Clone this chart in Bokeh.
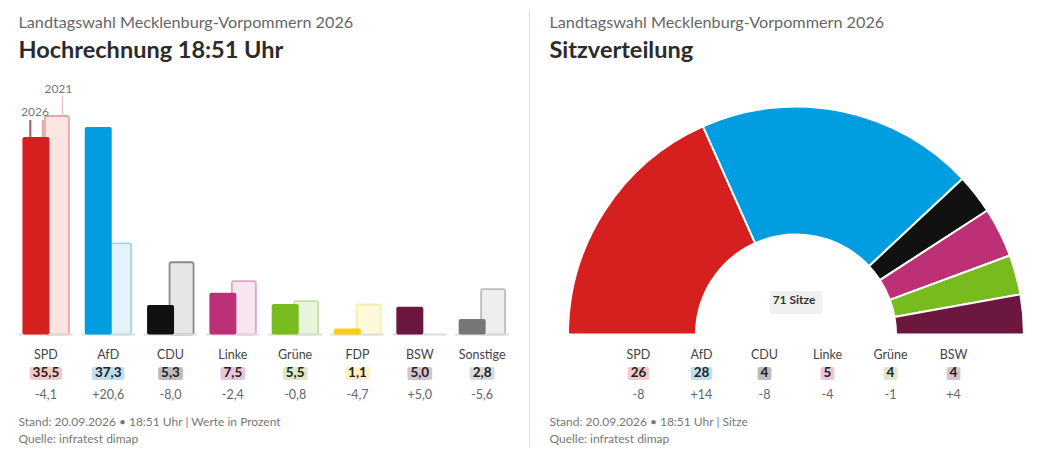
from bokeh.embed import file_html
from bokeh.resources import INLINE
from bokeh.plotting import figure
from bokeh.models import ColumnDataSource, FactorRange, Range1d, Title, Label, Div
from bokeh.layouts import row
from bokeh.transform import dodge
from bokeh.core.properties import value as literal
import math

FONT = "Lato"

parties = ["SPD", "AfD", "CDU", "Linke", "Grüne", "FDP", "BSW", "Sonstige"]
votes_2026 = [35.5, 37.3, 5.3, 7.5, 5.5, 1.1, 5.0, 2.8]
votes_2021 = [39.3, 16.4, 13.0, 9.6, 6.0, 5.4, 0.0, 8.15]
vote_diff = [-4.1, 20.6, -8.0, -2.4, -0.8, -4.7, 5.0, -5.6]
colors = ["#d61f1f", "#009ee0", "#111111", "#be3075", "#78bb1e", "#f8cf10", "#6b1740", "#777777"]
old_fill = ["#fbe4e2", "#e2f3fb", "#e6e6e6", "#f7e5ef", "#eaf4dd", "#fff9dc", "#eeeeee", "#eeeeee"]
old_line = ["#e4a9a6", "#9fd4ea", "#8a8a8a", "#dfa8c8", "#c6dfa8", "#f9ecb0", "#dddddd", "#bdbdbd"]
chips = ["#f3c9c9", "#bfdff1", "#bdbdbd", "#e9c6d9", "#dbe9c8", "#fff2c0", "#d5c4cf", "#d9d9d9"]

seat_parties = ["SPD", "AfD", "CDU", "Linke", "Grüne", "BSW"]
seats = [26, 28, 4, 5, 4, 4]
seat_diff = [-8, 14, -8, -4, -1, 4]
seat_colors = ["#d61f1f", "#009ee0", "#111111", "#be3075", "#78bb1e", "#6b1740"]
seat_chips = ["#f3c9c9", "#bfdff1", "#bdbdbd", "#e9c6d9", "#dbe9c8", "#d5c4cf"]

years = ["2026", "2021"]
year_hint_tops = [38.6, 42.8]

Y_TOP, Y_BOTTOM = 48.74, -20.14
TF = literal(FONT)


def base_figure(factors, pad, left):
    p = figure(width=521, height=441, frame_width=511, frame_height=383,
               x_range=FactorRange(factors=factors, range_padding=pad, range_padding_units="absolute"),
               y_range=Range1d(Y_BOTTOM, Y_TOP),
               output_backend="svg", toolbar_location=None,
               min_border_left=left, min_border_right=10 - left, min_border_top=0, min_border_bottom=0,
               background_fill_color=None, border_fill_color=None)
    p.outline_line_color = None
    p.grid.visible = False
    p.yaxis.visible = False
    ax = p.xaxis[0]
    ax.fixed_location = 0
    ax.axis_line_color = None
    ax.major_tick_line_color = None
    ax.minor_tick_line_color = None
    ax.major_label_standoff = 6
    ax.major_label_text_font = FONT
    ax.major_label_text_font_size = "12.5px"
    ax.major_label_text_color = "#444444"
    return p


def add_titles(p, sub, head, offset):
    p.title = Title(text=sub, text_font=FONT, text_font_size="16.2px", text_font_style="normal",
                    text_color="#666666", offset=offset, standoff=2)
    p.add_layout(Title(text=head, text_font=FONT, text_font_size="23.5px", text_font_style="bold",
                       text_color="#2b2b2b", offset=offset, standoff=2), "above")


def add_rows(p, src):
    p.text(x="party", y="zero", text="value", source=src, y_offset=39, text_font=TF,
           text_font_size="13.5px", text_font_style="bold", text_color="#222222", text_align="center",
           text_baseline="middle", background_fill_color="chip", padding=[3, 3, 0, 3], border_radius=2)
    p.text(x="party", y="zero", text="diff", source=src, y_offset=59, text_font=TF,
           text_font_size="12.5px", text_color="#666666", text_align="center", text_baseline="middle")


def add_footer(p, lines, x):
    for line, y in zip(lines, [25, 8]):
        p.add_layout(Label(x=x, y=y, x_units="screen", y_units="screen", text=line, text_font=FONT,
                           text_font_size="12px", text_color="#777777", text_baseline="middle"))


fmt = lambda v: f"{v:.1f}".replace(".", ",")
sign = lambda v: f"{v:+.1f}".replace(".", ",")

src1 = ColumnDataSource(dict(
    party=parties, new=votes_2026, old=votes_2021, color=colors, old_fill=old_fill, old_line=old_line,
    chip=chips, zero=[0] * len(parties), value=[fmt(v) for v in votes_2026], diff=[sign(v) for v in vote_diff],
))

p1 = base_figure(parties, 0.1, 0)
add_titles(p1, "Landtagswahl Mecklenburg-Vorpommern 2026", "Hochrechnung 18:51 Uhr", 10)
old_src = ColumnDataSource({k: [v[i] for i in range(len(parties)) if votes_2021[i] > 0] for k, v in src1.data.items()})
p1.vbar(x=dodge("party", 0.177, range=p1.x_range), top="old", bottom=0, width=0.385, source=old_src,
        fill_color="old_fill", line_color="old_line", line_width=1.8, border_radius=2)
p1.segment(x0=dodge("party", -0.43, range=p1.x_range), x1=dodge("party", 0.43, range=p1.x_range),
           y0="zero", y1="zero", source=src1, line_color="#dddddd", line_width=2)
p1.vbar(x=dodge("party", -0.16, range=p1.x_range), top="new", bottom=0, width=0.433, source=src1,
        fill_color="color", line_color=None, border_radius=2)

# year hints on the first group
hint = ColumnDataSource(dict(party=parties[:1], new=votes_2026[:1], old=votes_2021[:1],
                             hint_new=year_hint_tops[:1], hint_old=year_hint_tops[1:],
                             year_new=years[:1], year_old=years[1:]))
p1.segment(x0=dodge("party", -0.25, range=p1.x_range), x1=dodge("party", -0.25, range=p1.x_range),
           y0="new", y1="hint_new", source=hint, line_color="#9b5a5a", line_width=2)
p1.segment(x0=dodge("party", -0.05, range=p1.x_range), x1=dodge("party", -0.05, range=p1.x_range),
           y0="new", y1="hint_new", source=hint, line_color="#d9a6a6", line_width=2)
p1.segment(x0=dodge("party", 0.265, range=p1.x_range), x1=dodge("party", 0.265, range=p1.x_range),
           y0="old", y1="hint_old", source=hint, line_color="#e8b5b5", line_width=1)
p1.text(x=dodge("party", -0.175, range=p1.x_range), y="hint_new", text="year_new", source=hint, y_offset=-8,
        text_font=TF, text_font_size="12px", text_color="#777777", text_align="center", text_baseline="middle")
p1.text(x=dodge("party", 0.2, range=p1.x_range), y="hint_old", text="year_old", source=hint, y_offset=-8,
        text_font=TF, text_font_size="12px", text_color="#777777", text_align="center", text_baseline="middle")
add_rows(p1, src1)
add_footer(p1, ["Stand: 20.09.2026 • 18:51 Uhr | Werte in Prozent", "Quelle: infratest dimap"], 10)

p2 = base_figure(seat_parties, 1.055, 10)
add_titles(p2, "Landtagswahl Mecklenburg-Vorpommern 2026", "Sitzverteilung", 9)
total = sum(seats)
cum = [sum(seats[:i]) for i in range(len(seats) + 1)]
anchor = seat_parties[len(seat_parties) // 2 - 1]
src2 = ColumnDataSource(dict(
    party=seat_parties, seats=seats, color=seat_colors, chip=seat_chips, zero=[0] * len(seats), anchor=[anchor] * len(seats),
    start=[math.pi * (1 - c / total) for c in cum[:-1]], end=[math.pi * (1 - c / total) for c in cum[1:]],
    value=[str(s) for s in seats], diff=[f"{d:+d}" for d in seat_diff],
))
centre = dodge("anchor", 0.5, range=p2.x_range)
p2.annular_wedge(x=centre, y="zero", inner_radius=100, outer_radius=228, inner_radius_units="screen",
                 outer_radius_units="screen", start_angle="start", end_angle="end", direction="clock",
                 source=src2, fill_color="color", line_color="white", line_width=2)
src_total = ColumnDataSource(dict(anchor=[anchor], zero=[0], label=[f"{total} Sitze"]))
p2.text(x=centre, y="zero", text="label", source=src_total, y_offset=-32, text_font=TF,
        text_font_size="12px", text_font_style="bold", text_color="#333333", text_align="center",
        text_baseline="middle", background_fill_color="#f0f0f0", padding=[3, 7, 1, 7], border_radius=2)
add_rows(p2, src2)
add_footer(p2, ["Stand: 20.09.2026 • 18:51 Uhr | Sitze", "Quelle: infratest dimap"], 9)

divider = Div(text="", width=1, height=437, margin=(2, 0, 0, 0), styles={"background-color": "#e0e0e0"})
layout = row(p1, divider, p2, spacing=0, margin=(8, 0, 0, 8))
open("out.html", "w").write(file_html(layout, INLINE))
